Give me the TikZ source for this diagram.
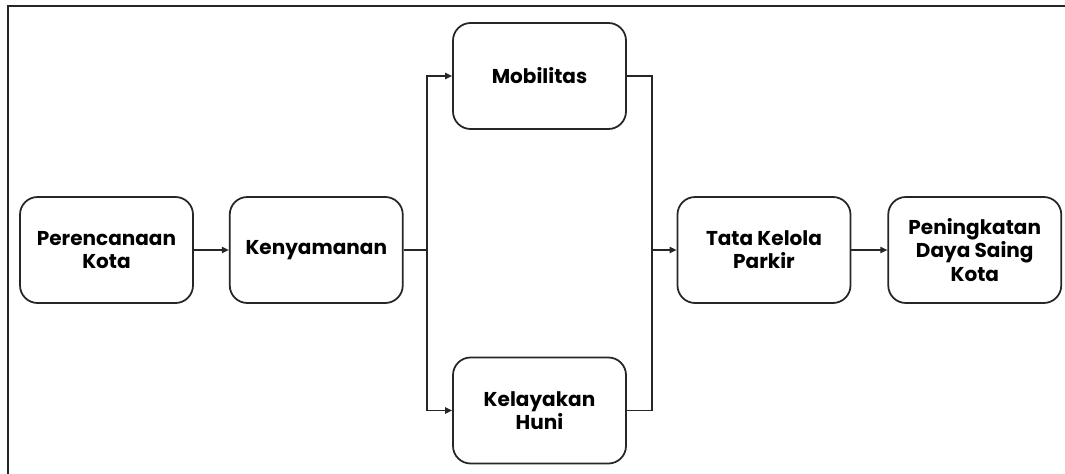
\documentclass[tikz,border=0pt]{standalone}
\usepackage{fontspec}
\setmainfont{Poppins}
\usepackage{tikz}
\usetikzlibrary{arrows.meta,positioning,calc}
\tikzset{
  box/.style={draw=black!85, line width=1pt, rounded corners=10pt, fill=white,
    minimum width=3.46cm, minimum height=2.12cm, align=center, inner sep=2pt,
    font=\bfseries\fontsize{11.4}{13.2}\selectfont},
  line/.style={line width=0.8pt, draw=black!85},
  flow/.style={line, -{Triangle[length=4pt,width=3.6pt]}}
}
\begin{document}
\begin{tikzpicture}[node distance=0.7cm]
  \useasboundingbox (0,0) rectangle (21.3,9.46);
  % outer frame
  \draw[line width=1.2pt, black!85] (0.16,-1) rectangle (22,9.34);
  \node[box] (plan) at (2.13,4.46) {Perencanaan\\Kota};
  \node[box, right=of plan] (keny) {Kenyamanan};
  \node[box] (mob) at (10.79,7.94) {Mobilitas};
  \node[box] (kel) at (10.79,1.25) {Kelayakan\\Huni};
  \node[box] (tata) at (15.28,4.46) {Tata Kelola\\Parkir};
  \node[box, right=0.72cm of tata] (saing) {Peningkatan\\Daya Saing\\Kota};
  \coordinate (split) at (8.54,4.46);
  \coordinate (merge) at (13.04,4.46);
  \draw[flow] (plan) -- (keny);
  \draw[line] (keny) -- (split);
  \draw[flow] (split) |- (mob);
  \draw[flow] (split) |- (kel);
  \draw[line] (mob) -| (merge);
  \draw[line] (kel) -| (merge);
  \draw[flow] (merge) -- (tata);
  \draw[flow] (tata) -- (saing);
\end{tikzpicture}
\end{document}
